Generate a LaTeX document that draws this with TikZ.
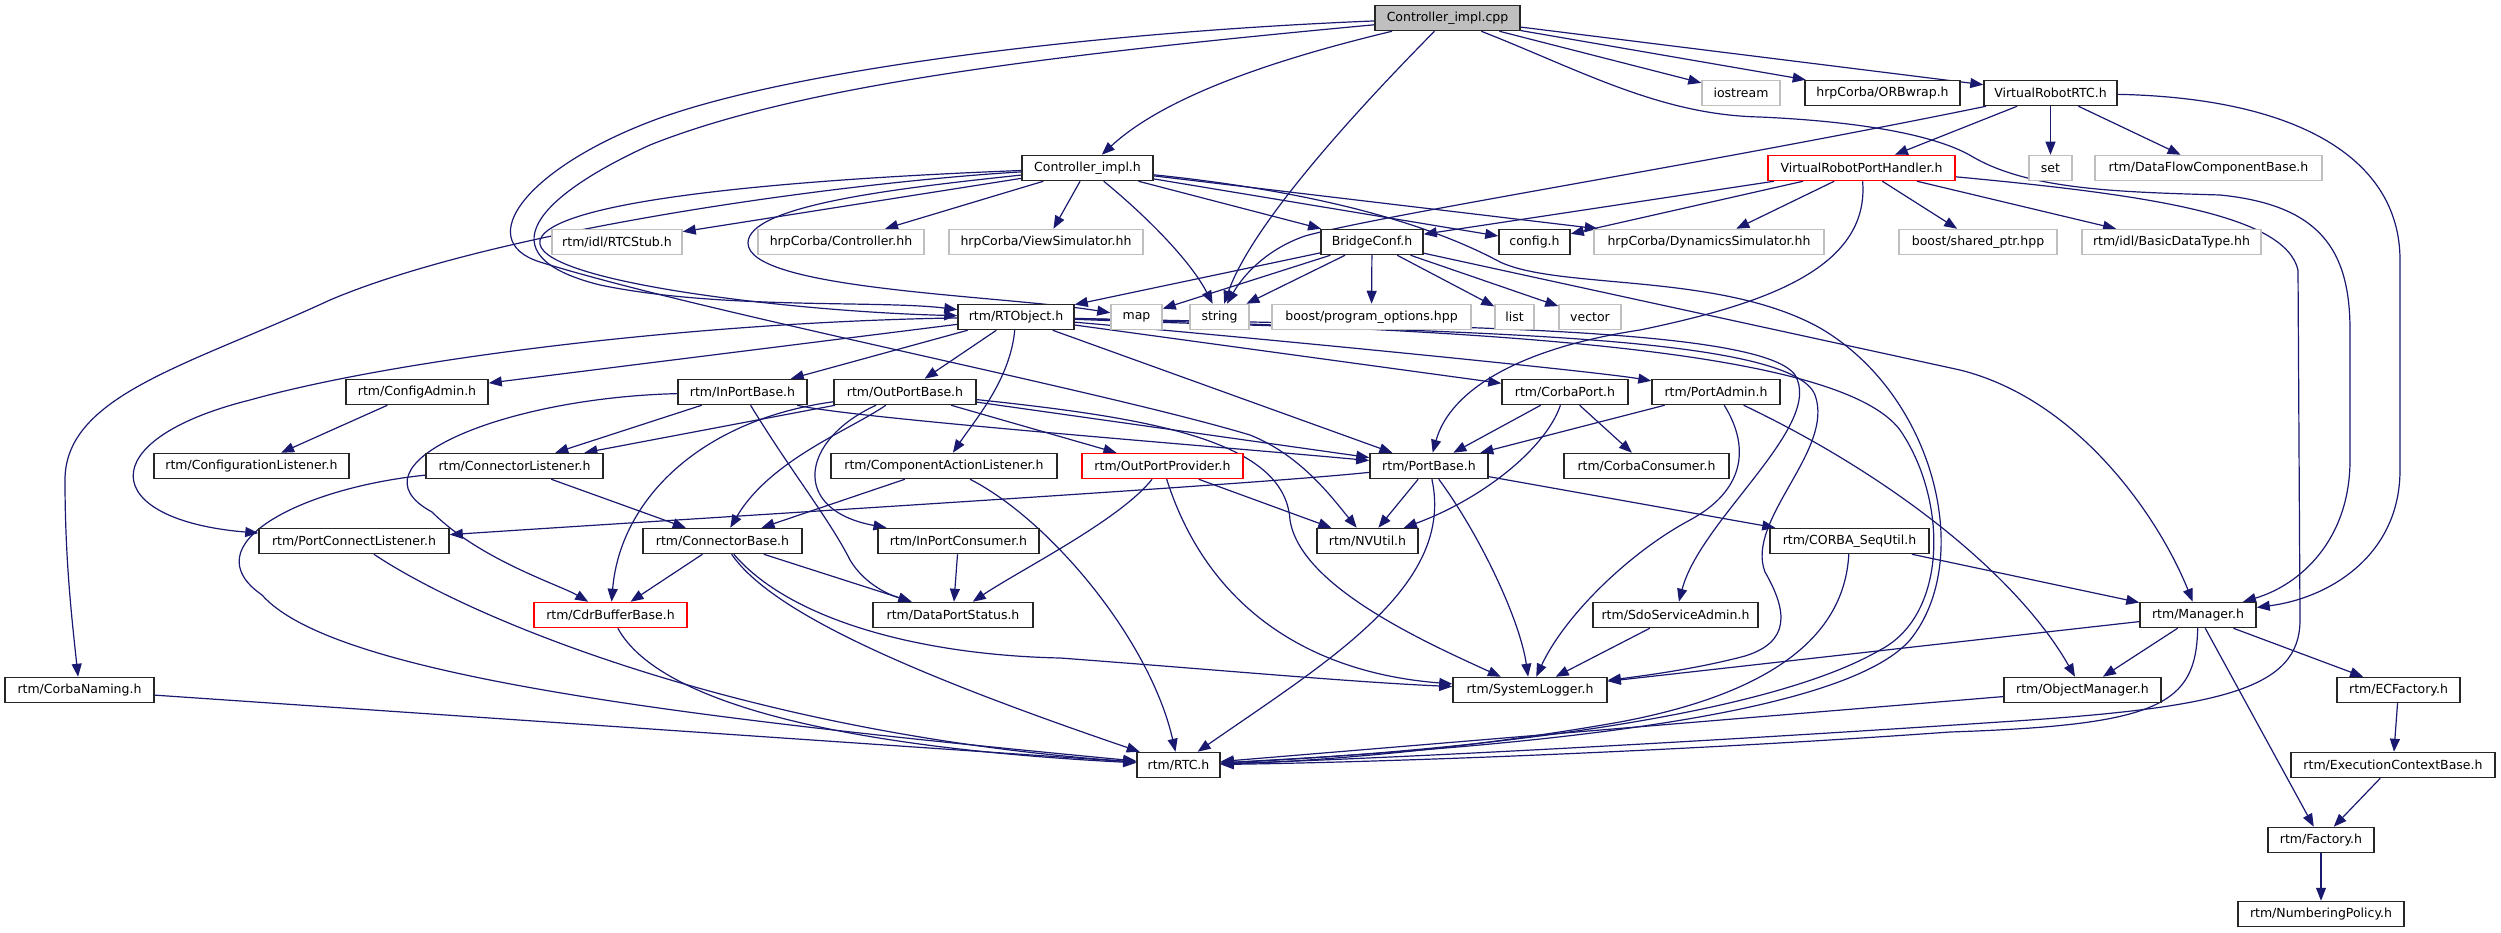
\documentclass[tikz,border=0pt]{standalone}
\usepackage{fontspec}
\setmainfont{DejaVu Sans}
\usetikzlibrary{arrows.meta,backgrounds}
\definecolor{edgec}{HTML}{191970}
\definecolor{graybox}{HTML}{BFBFBF}
\definecolor{rootfill}{HTML}{BFBFBF}
\definecolor{boxred}{HTML}{FF0000}
\tikzset{
  box/.style={draw, line width=1.5pt, minimum height=25pt, inner sep=0pt, fill=white, font=\fontsize{12.5}{15}\selectfont},
  blk/.style={box, draw=black!85},
  gry/.style={box, draw=graybox},
  redbox/.style={box, draw=boxred},
  root/.style={box, draw=black!85, fill=rootfill},
  ln/.style={draw=edgec, line width=1.2pt, -{Triangle[length=13pt,width=10pt]}},
}
\begin{document}
\begin{tikzpicture}[x=1pt,y=-1pt]
\useasboundingbox (0,0) rectangle (2501,933);
% nodes
\node[root, minimum width=145pt] (cpp) at (1447.5,18) {Controller\_impl.cpp};
\node[gry, minimum width=78pt] (iostream) at (1741,93) {iostream};
\node[blk, minimum width=155pt] (orbwrap) at (1882.5,93) {hrpCorba/ORBwrap.h};
\node[blk, minimum width=133pt] (vrrtc) at (2050.5,93) {VirtualRobotRTC.h};
\node[blk, minimum width=131pt] (cih) at (1087.5,168) {Controller\_impl.h};
\node[redbox, minimum width=187pt] (vrph) at (1861.5,168) {VirtualRobotPortHandler.h};
\node[gry, minimum width=43pt] (set) at (2050.5,168) {set};
\node[gry, minimum width=227pt] (dfcb) at (2208.5,168) {rtm/DataFlowComponentBase.h};
\node[gry, minimum width=130pt] (rtcstub) at (617,242) {rtm/idl/RTCStub.h};
\node[gry, minimum width=166pt] (ctrlhh) at (841,242) {hrpCorba/Controller.hh};
\node[gry, minimum width=194pt] (viewsim) at (1046,242) {hrpCorba/ViewSimulator.hh};
\node[blk, minimum width=102pt] (bridge) at (1372,242) {BridgeConf.h};
\node[blk, minimum width=71pt] (config) at (1534.5,242) {config.h};
\node[gry, minimum width=230pt] (dynsim) at (1709,242) {hrpCorba/DynamicsSimulator.hh};
\node[gry, minimum width=158pt] (sharedptr) at (1978,242) {boost/shared\_ptr.hpp};
\node[gry, minimum width=179pt] (basicdt) at (2171.5,242) {rtm/idl/BasicDataType.hh};
\node[blk, minimum width=116pt] (rtobj) at (1016,317) {rtm/RTObject.h};
\node[gry, minimum width=51pt] (map) at (1136.5,317) {map};
\node[gry, minimum width=59pt] (string) at (1219.5,317) {string};
\node[gry, minimum width=199pt] (progopt) at (1371.5,317) {boost/program\_options.hpp};
\node[gry, minimum width=39pt] (list) at (1514.5,317) {list};
\node[gry, minimum width=62pt] (vector) at (1590,317) {vector};
\node[blk, minimum width=142pt] (cfgadmin) at (417,392) {rtm/ConfigAdmin.h};
\node[blk, minimum width=129pt] (inport) at (742.5,392) {rtm/InPortBase.h};
\node[blk, minimum width=142pt] (outport) at (905,392) {rtm/OutPortBase.h};
\node[blk, minimum width=126pt] (corbaport) at (1565,392) {rtm/CorbaPort.h};
\node[blk, minimum width=128pt] (portadmin) at (1716,392) {rtm/PortAdmin.h};
\node[blk, minimum width=195pt] (cfglist) at (251.5,466) {rtm/ConfigurationListener.h};
\node[blk, minimum width=177pt] (connlist) at (514.5,466) {rtm/ConnectorListener.h};
\node[blk, minimum width=226pt] (compact) at (944,466) {rtm/ComponentActionListener.h};
\node[redbox, minimum width=161pt] (outprov) at (1162.5,466) {rtm/OutPortProvider.h};
\node[blk, minimum width=118pt] (portbase) at (1429,466) {rtm/PortBase.h};
\node[blk, minimum width=165pt] (corbacons) at (1646.5,466) {rtm/CorbaConsumer.h};
\node[blk, minimum width=190pt] (portconn) at (354,541) {rtm/PortConnectListener.h};
\node[blk, minimum width=159pt] (connbase) at (722.5,541) {rtm/ConnectorBase.h};
\node[blk, minimum width=161pt] (inportcons) at (958.5,541) {rtm/InPortConsumer.h};
\node[blk, minimum width=101pt] (nvutil) at (1367.5,541) {rtm/NVUtil.h};
\node[blk, minimum width=159pt] (sequtil) at (1849.5,541) {rtm/CORBA\_SeqUtil.h};
\node[redbox, minimum width=153pt] (cdrbuf) at (610.5,615) {rtm/CdrBufferBase.h};
\node[blk, minimum width=160pt] (dps) at (953,615) {rtm/DataPortStatus.h};
\node[blk, minimum width=165pt] (sdo) at (1675.5,615) {rtm/SdoServiceAdmin.h};
\node[blk, minimum width=116pt] (manager) at (2198,615) {rtm/Manager.h};
\node[blk, minimum width=149pt] (naming) at (79.5,690) {rtm/CorbaNaming.h};
\node[blk, minimum width=154pt] (syslog) at (1530,690) {rtm/SystemLogger.h};
\node[blk, minimum width=157pt] (objmgr) at (2082.5,690) {rtm/ObjectManager.h};
\node[blk, minimum width=123pt] (ecfact) at (2398.5,690) {rtm/ECFactory.h};
\node[blk, minimum width=83pt] (rtc) at (1178.5,765) {rtm/RTC.h};
\node[blk, minimum width=204pt] (ecbase) at (2393,765) {rtm/ExecutionContextBase.h};
\node[blk, minimum width=106pt] (factory) at (2321,840) {rtm/Factory.h};
\node[blk, minimum width=166pt] (numpol) at (2321,914) {rtm/NumberingPolicy.h};
% edges
\begin{scope}[on background layer]
% Controller_impl.cpp
\draw[ln] (cpp) .. controls (1230,70) and (1150,110) .. (cih);
\draw[ln] (cpp) .. controls (1340,127) and (1250,230) .. (string);
\draw[ln] (cpp) -- (iostream);
\draw[ln] (cpp) -- (orbwrap);
\draw[ln] (cpp) -- (vrrtc);
\draw[ln] (cpp) .. controls (1580,70) and (1660,115) .. (1760,117) .. controls (1870,122) and (1940,137) .. (1973,157) .. controls (2030,190) and (2120,192) .. (2220,195) .. controls (2320,205) and (2350,250) .. (2350,330) -- (2350,460) .. controls (2350,540) and (2300,585) .. (manager);
\draw[ln] (cpp) .. controls (1050,55) and (800,85) .. (650,145) .. controls (540,195) and (480,255) .. (600,285) .. controls (720,310) and (880,300) .. (rtobj);
\draw[ln] (cpp) .. controls (1100,32) and (800,68) .. (660,118) .. controls (530,165) and (470,240) .. (540,262) .. controls (700,312) and (1100,390) .. (1250,435) .. controls (1300,455) and (1330,495) .. (nvutil);
% Controller_impl.h
\draw[ln] (cih) .. controls (850,177) and (555,195) .. (540,240) .. controls (530,282) and (800,312) .. (rtobj);
\draw[ln] (cih) .. controls (850,182) and (500,228) .. (330,300) .. controls (190,365) and (65,395) .. (65,480) .. controls (65,560) and (72,620) .. (naming);
\draw[ln] (cih) .. controls (900,188) and (748,205) .. (748,243) .. controls (748,290) and (1000,295) .. (map);
\draw[ln] (cih) -- (rtcstub);
\draw[ln] (cih) -- (ctrlhh);
\draw[ln] (cih) -- (viewsim);
\draw[ln] (cih) .. controls (1145,215) and (1190,260) .. (string);
\draw[ln] (cih) -- (bridge);
\draw[ln] (cih) -- (config);
\draw[ln] (cih) -- (dynsim);
\draw[ln] (cih) .. controls (1350,195) and (1450,235) .. (1500,262) .. controls (1560,290) and (1720,272) .. (1820,328) .. controls (1935,395) and (1975,560) .. (1910,640) .. controls (1840,720) and (1500,748) .. (rtc);
% VirtualRobotRTC.h
\draw[ln] (vrrtc) -- (vrph);
\draw[ln] (vrrtc) -- (set);
\draw[ln] (vrrtc) -- (dfcb);
\draw[ln] (vrrtc) .. controls (2300,98) and (2400,160) .. (2400,260) -- (2400,470) .. controls (2400,555) and (2330,598) .. (manager);
\draw[ln] (vrrtc) .. controls (1700,165) and (1380,215) .. (1305,236) .. controls (1270,248) and (1245,272) .. (string);
% VirtualRobotPortHandler.h
\draw[ln] (vrph) -- (bridge);
\draw[ln] (vrph) -- (config);
\draw[ln] (vrph) -- (dynsim);
\draw[ln] (vrph) -- (sharedptr);
\draw[ln] (vrph) -- (basicdt);
\draw[ln] (vrph) .. controls (1870,270) and (1760,305) .. (1640,330) .. controls (1520,348) and (1450,390) .. (portbase);
\draw[ln] (vrph) .. controls (2150,195) and (2285,215) .. (2298,270) -- (2300,620) .. controls (2300,690) and (2220,708) .. (2000,722) .. controls (1700,742) and (1400,758) .. (rtc);
% BridgeConf.h
\draw[ln] (bridge) -- (rtobj);
\draw[ln] (bridge) -- (map);
\draw[ln] (bridge) -- (string);
\draw[ln] (bridge) -- (progopt);
\draw[ln] (bridge) -- (list);
\draw[ln] (bridge) -- (vector);
\draw[ln] (bridge) -- (1960,370) .. controls (2080,400) and (2160,520) .. (manager);
% RTObject.h
\draw[ln] (rtobj) -- (cfgadmin);
\draw[ln] (rtobj) -- (inport);
\draw[ln] (rtobj) -- (outport);
\draw[ln] (rtobj) .. controls (1010,380) and (975,420) .. (compact);
\draw[ln] (rtobj) -- (portbase);
\draw[ln] (rtobj) -- (corbaport);
\draw[ln] (rtobj) .. controls (1300,342) and (1600,372) .. (portadmin);
\draw[ln] (rtobj) .. controls (1400,326) and (1760,325) .. (1795,375) .. controls (1825,425) and (1700,520) .. (sdo);
\draw[ln] (rtobj) .. controls (1400,332) and (1790,330) .. (1815,395) .. controls (1835,450) and (1745,520) .. (1765,572) .. controls (1788,612) and (1790,642) .. (1745,656) .. controls (1700,668) and (1650,675) .. (syslog);
\draw[ln] (rtobj) .. controls (1500,330) and (1840,350) .. (1900,430) .. controls (1948,500) and (1948,615) .. (1880,650) .. controls (1760,720) and (1450,752) .. (rtc);
\draw[ln] (rtobj) .. controls (700,322) and (400,358) .. (250,400) .. controls (90,440) and (100,520) .. (portconn);
% ConfigAdmin.h
\draw[ln] (cfgadmin) -- (cfglist);
% InPortBase.h
\draw[ln] (inport) -- (connlist);
\draw[ln] (inport) .. controls (500,398) and (345,465) .. (432,512) .. controls (480,560) and (560,585) .. (cdrbuf);
\draw[ln] (inport) .. controls (790,470) and (830,520) .. (850,560) .. controls (865,585) and (890,595) .. (dps);
\draw[ln] (inport) .. controls (850,418) and (1200,445) .. (portbase);
% OutPortBase.h
\draw[ln] (outport) -- (connlist);
\draw[ln] (outport) .. controls (700,420) and (620,500) .. (cdrbuf);
\draw[ln] (outport) .. controls (850,430) and (770,460) .. (connbase);
\draw[ln] (outport) .. controls (800,440) and (790,510) .. (inportcons);
\draw[ln] (outport) -- (outprov);
\draw[ln] (outport) -- (portbase);
\draw[ln] (outport) .. controls (1150,418) and (1285,440) .. (1290,520) .. controls (1300,585) and (1420,640) .. (syslog);
% ConnectorListener.h
\draw[ln] (connlist) -- (connbase);
\draw[ln] (connlist) .. controls (300,488) and (190,545) .. (262,595) .. controls (330,672) and (650,715) .. (rtc);
% ConnectorBase.h
\draw[ln] (connbase) -- (cdrbuf);
\draw[ln] (connbase) -- (dps);
\draw[ln] (connbase) .. controls (770,610) and (900,670) .. (rtc);
\draw[ln] (connbase) .. controls (790,620) and (920,655) .. (1060,658) .. controls (1220,670) and (1350,682) .. (syslog);
% InPortConsumer.h
\draw[ln] (inportcons) -- (dps);
% ComponentActionListener.h
\draw[ln] (compact) .. controls (1050,520) and (1150,640) .. (rtc);
\draw[ln] (compact) -- (connbase);
% OutPortProvider.h
\draw[ln] (outprov) .. controls (1120,520) and (1020,570) .. (dps);
\draw[ln] (outprov) -- (nvutil);
\draw[ln] (outprov) .. controls (1205,600) and (1300,672) .. (syslog);
% PortBase.h
\draw[ln] (portbase) -- (nvutil);
\draw[ln] (portbase) .. controls (1455,585) and (1330,660) .. (rtc);
\draw[ln] (portbase) .. controls (1480,535) and (1520,620) .. (syslog);
\draw[ln] (portbase) .. controls (1250,485) and (700,518) .. (portconn);
\draw[ln] (portbase) -- (sequtil);
% CorbaPort.h
\draw[ln] (corbaport) -- (portbase);
\draw[ln] (corbaport) -- (corbacons);
\draw[ln] (corbaport) .. controls (1545,450) and (1480,500) .. (nvutil);
% PortAdmin.h
\draw[ln] (portadmin) -- (portbase);
\draw[ln] (portadmin) .. controls (1752,450) and (1742,492) .. (1690,520) .. controls (1630,552) and (1565,615) .. (syslog);
\draw[ln] (portadmin) .. controls (1900,480) and (2020,580) .. (objmgr);
% CORBA_SeqUtil.h
\draw[ln] (sequtil) -- (manager);
\draw[ln] (sequtil) .. controls (1845,625) and (1790,690) .. (1620,722) .. controls (1450,752) and (1300,762) .. (rtc);
% SdoServiceAdmin.h
\draw[ln] (sdo) -- (syslog);
% Manager.h
\draw[ln] (manager) -- (syslog);
\draw[ln] (manager) -- (objmgr);
\draw[ln] (manager) .. controls (2196,705) and (2160,725) .. (1950,732) .. controls (1700,750) and (1400,762) .. (rtc);
\draw[ln] (manager) -- (factory);
\draw[ln] (manager) -- (ecfact);
% others
\draw[ln] (objmgr) -- (rtc);
\draw[ln] (ecfact) -- (ecbase);
\draw[ln] (ecbase) -- (factory);
\draw[ln] (factory) -- (numpol);
\draw[ln] (cdrbuf) .. controls (660,705) and (850,748) .. (rtc);
\draw[ln] (portconn) .. controls (480,625) and (760,735) .. (rtc);
\draw[ln] (naming) -- (rtc);
\end{scope}
\end{tikzpicture}
\end{document}
